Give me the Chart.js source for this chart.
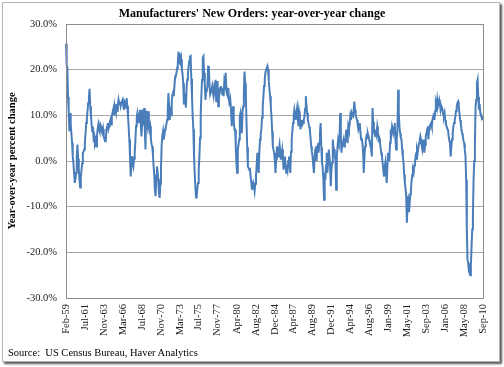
<!DOCTYPE html>
<html>
<head>
<meta charset="utf-8">
<script src="https://cdn.jsdelivr.net/npm/chart.js@4"></script>
<style>
html,body{margin:0;padding:0;background:#fff;}
#wrap{position:relative;width:504px;height:367px;overflow:hidden;background:#fff;}
#frame{position:absolute;left:2px;top:2px;width:496px;height:358px;border:1px solid #b4b4b4;box-shadow:2px 2px 2px #555;background:#fff;}
#title{position:absolute;left:0;top:6px;width:504px;text-align:center;font:bold 12px "Liberation Serif";line-height:14px;color:#000;}
#source{position:absolute;left:8px;top:347px;font:10.5px "Liberation Serif";line-height:12px;color:#000;white-space:pre;}
canvas{position:absolute;left:0;top:0;}
</style>
</head>
<body>
<div id="wrap">
  <div id="frame"></div>
  <canvas id="c" width="504" height="367"></canvas>
  <div id="title">Manufacturers' New Orders: year-over-year change</div>
  <div id="source">Source:  US Census Bureau, Haver Analytics</div>
</div>
<script>
// Monthly year-over-year % change, Feb-1959 .. Sep-2010
const orders1959 = [25.7, 21.0, 20.5, 14.0, 11.0, 6.5, 10.5, 8.0, 6.0, 4.0, 1.0];
const orders1960s = [
  -0.5, -2.5, -4.8, -4.0, -2.6, 1.0, 3.6, 0.5, -1.9, -4.0, -5.8, -3.5,
  -2.0, -0.5, 1.8, 2.0, 2.5, 4.0, 6.0, 8.3, 9.5, 11.0, 12.7, 14.0,
  15.8, 12.0, 10.0, 8.0, 6.5, 7.5, 5.0, 5.5, 3.9, 4.5, 3.2, 5.5,
  7.0, 8.0, 7.0, 6.5, 8.0, 7.6, 6.5, 6.1, 7.0, 5.4, 4.8, 4.3,
  4.5, 6.9, 7.5, 8.3, 7.0, 7.6, 8.5, 9.0, 8.0, 9.8, 10.5, 11.2,
  10.0, 12.0, 11.0, 10.5, 12.5, 11.0, 12.3, 13.4, 12.5, 13.0, 12.0, 12.7,
  13.0, 13.4, 12.0, 11.2, 13.0, 12.7, 11.5, 13.8, 12.0, 9.8, 7.5, 4.7,
  1.0, -3.4, -1.0, 1.0, -0.5, -1.2, 0.5, 1.8, 4.5, 7.6, 9.5, 10.5,
  9.5, 8.3, 10.0, 11.2, 8.0, 5.4, 8.0, 11.2, 9.0, 11.6, 7.0, 2.5,
  11.0, 8.5, 7.6, 10.9, 8.0, 6.9, 7.6, 5.0, 3.6, 3.2, 1.5, -1.0
];
const orders1970s = [
  -3.0, -6.5, -7.7, -4.0, -1.2, -2.5, -4.0, -7.0, -8.1, -5.0, -1.5, 3.5,
  5.5, 6.5, 4.7, 5.5, 6.9, 7.5, 8.0, 9.0, 11.0, 14.9, 12.0, 9.0,
  11.7, 10.0, 13.0, 14.5, 15.0, 14.2, 16.5, 18.5, 18.6, 19.3, 20.4, 21.5,
  23.7, 23.6, 21.5, 21.2, 22.2, 20.0, 19.0, 17.1, 12.4, 14.6, 14.2, 11.7,
  16.0, 17.8, 19.0, 20.7, 21.9, 22.9, 23.0, 18.0, 14.2, 10.0, 6.9, 1.5,
  -2.5, -5.5, -8.0, -7.7, -6.0, -4.8, -2.0, 1.0, 5.1, 10.5, 14.6, 17.8,
  22.6, 22.9, 19.3, 17.0, 13.4, 15.3, 15.6, 16.4, 20.7, 20.8, 16.4, 14.6,
  14.6, 15.6, 16.4, 15.0, 14.2, 16.0, 15.3, 17.8, 13.1, 14.2, 17.5, 12.0,
  15.3, 14.9, 16.0, 16.4, 15.6, 14.6, 16.0, 14.2, 17.5, 16.8, 19.3, 16.0,
  14.6, 14.2, 16.0, 13.4, 12.0, 13.1, 11.2, 7.6, 10.0, 12.0, 9.0, 6.9
];
const orders1980s = [
  6.9, 3.2, -0.5, -2.6, 2.5, 3.5, 4.7, 9.8, 10.5, 8.0, 6.1, 10.5,
  12.0, 14.9, 19.6, 17.0, 14.2, 8.3, 3.0, -1.2, -1.5, -1.9, -1.5, -3.4,
  -4.5, -6.3, -5.5, -4.8, -5.5, -6.6, -5.0, -3.4, -1.0, 1.8, -0.5, -2.6,
  2.0, 4.7, 5.8, 6.9, 9.5, 12.0, 14.0, 16.4, 18.0, 19.3, 20.0, 20.4,
  20.8, 20.0, 17.5, 15.6, 14.2, 12.0, 9.8, 6.5, 3.2, 2.5, 1.8, 0.0,
  -2.6, 0.5, 3.2, 2.0, 1.0, 2.5, 3.6, 2.0, 0.3, 1.5, 2.5, 0.5,
  -1.9, 0.0, 1.0, -1.0, -2.6, -1.0, -1.9, 0.0, 1.0, -1.0, -2.6, 2.0,
  4.7, 6.5, 8.3, 10.0, 11.2, 10.0, 9.0, 10.5, 11.6, 9.5, 7.6, 10.9,
  10.0, 6.9, 8.0, 9.0, 8.0, 8.3, 9.0, 9.8, 11.5, 14.2, 12.0, 10.5,
  9.0, 8.3, 7.5, 6.9, 5.0, 3.2, 2.0, 1.0, -1.0, -2.6, 0.5, 2.5
];
const orders1990s = [
  3.2, 0.0, 3.2, 3.9, 1.8, 4.0, 6.1, 8.3, 3.0, -0.4, -1.2, -4.0,
  -8.5, -2.6, -4.1, -1.0, 1.8, -2.6, -0.5, 2.5, 1.0, -1.0, -5.5, -2.0,
  -0.4, 4.7, 3.0, 2.5, 1.0, 0.3, -6.3, 1.0, 3.0, 4.7, 4.0, 4.7,
  10.5, 5.0, 1.8, 3.9, 4.0, 4.7, 3.2, 4.0, 4.7, 6.9, 5.0, 3.9,
  7.6, 6.9, 8.0, 9.8, 9.0, 10.5, 10.0, 9.8, 11.0, 13.0, 11.2, 9.8,
  9.5, 9.0, 8.0, 6.9, 7.5, 8.3, 6.5, 4.7, 5.0, 3.9, 2.0, -2.6,
  1.0, 3.2, 4.5, 5.4, 5.0, 6.1, 5.5, 4.7, 4.0, 3.9, 2.5, 1.0,
  11.6, 8.5, 6.9, 6.0, 5.4, 6.9, 6.0, 7.6, 6.5, 4.7, 5.0, 3.9,
  3.0, 1.8, 1.0, -0.4, -2.0, -3.4, -1.5, -0.4, -2.5, -4.8, -1.5, 1.8,
  0.5, 0.3, 4.0, 6.9, 6.0, 7.6, 7.0, 6.1, 7.0, 8.3, 5.0, 2.5
];
const orders2000s = [
  5.0, 6.9, 15.6, 10.5, 7.5, 6.1, 5.0, 4.7, 2.5, 1.0, -0.4, -3.0,
  -4.8, -6.0, -7.7, -13.5, -10.0, -11.0, -8.8, -9.5, -7.3, -6.3, -4.4, -3.0,
  -2.0, -2.6, -1.0, -0.4, 1.0, 0.5, 2.5, 1.8, 3.0, 3.9, 4.5, 5.4,
  4.7, 3.5, 2.5, 3.5, 4.7, 1.8, 3.5, 5.4, 6.0, 6.9, 7.6, 4.7,
  6.9, 7.6, 8.0, 8.3, 7.6, 9.0, 9.8, 10.5, 9.0, 11.0, 12.7, 12.0,
  13.4, 12.0, 12.7, 13.4, 12.5, 11.2, 12.0, 11.5, 11.2, 10.0, 9.8, 10.5,
  9.0, 8.0, 7.6, 7.0, 6.9, 5.4, 4.5, 3.9, 1.0, 3.0, 4.7, 6.1,
  7.6, 8.3, 9.0, 9.8, 11.0, 12.0, 12.7, 13.0, 12.0, 10.5, 9.0, 8.3,
  6.9, 6.1, 5.4, 4.5, 3.9, 2.5, 1.0, -4.1, -15.0, -21.6, -22.3, -24.0,
  -24.5, -25.0, -23.0, -18.7, -15.0, -12.1, -4.1, 0.0, 3.9, 12.0, 13.4, 17.1
];
const orders2010 = [17.8, 14.0, 11.2, 12.5, 10.5, 10.0, 9.8, 9.5, 9.0];

const tickLabels = ['Feb-59','Jul-61','Nov-63','Mar-66','Jul-68','Nov-70','Mar-73','Jul-75',
  'Nov-77','Apr-80','Aug-82','Dec-84','Apr-87','Aug-89','Dec-91','Apr-94','Aug-96',
  'Jan-99','May-01','Sep-03','Jan-06','May-08','Sep-10'];
const yTicks = [-30, -20, -10, 0, 10, 20, 30];
const monthNames = ['Jan','Feb','Mar','Apr','May','Jun','Jul','Aug','Sep','Oct','Nov','Dec'];

const values = [].concat(orders1959, orders1960s, orders1970s, orders1980s, orders1990s, orders2000s, orders2010);
const labels = values.map((_, i) => {
  const k = 1 + i; // Feb 1959 = month index 1
  const m = k % 12;
  const y = 1959 + Math.floor(k / 12);
  return monthNames[m] + '-' + String(y % 100).padStart(2, '0');
});
const tickIdx = tickLabels.map(t => labels.indexOf(t)).filter(i => i >= 0);

const serif = 'Liberation Serif';

const plotFrame = {
  id: 'plotFrame',
  afterDatasetsDraw(chart) {
    const a = chart.chartArea;
    const ctx = chart.ctx;
    ctx.save();
    ctx.strokeStyle = '#8c8c8c';
    ctx.lineWidth = 1;
    ctx.strokeRect(Math.round(a.left) + 0.5, Math.round(a.top) + 0.5,
      Math.round(a.right) - Math.round(a.left), Math.round(a.bottom) - Math.round(a.top));
    ctx.restore();
  }
};

new Chart(document.getElementById('c'), {
  type: 'line',
  data: {
    labels: labels,
    datasets: [{
      data: values,
      borderColor: '#4a7ebb',
      borderWidth: 2,
      pointRadius: 0,
      tension: 0,
      fill: false
    }]
  },
  options: {
    responsive: false,
    animation: false,
    layout: { padding: { top: 24, right: 21, left: 0, bottom: 0 } },
    plugins: {
      legend: { display: false },
      tooltip: { enabled: false },
      title: { display: false }
    },
    scales: {
      x: {
        type: 'category',
        grid: { display: false, drawTicks: false },
        border: { display: true, color: '#8c8c8c' },
        ticks: {
          autoSkip: false,
          maxRotation: 90,
          minRotation: 90,
          padding: 6,
          color: '#222',
          font: { family: serif, size: 10.5 }
        },
        afterBuildTicks: (s) => { s.ticks = tickIdx.map(v => ({ value: v })); },
        afterFit: (s) => { s.height = 69; }
      },
      y: {
        min: yTicks[0],
        max: yTicks[yTicks.length - 1],
        afterBuildTicks: (s) => { s.ticks = yTicks.map(v => ({ value: v })); },
        ticks: {
          padding: 9,
          color: '#222',
          font: { family: serif, size: 10.5 },
          callback: (v) => Number(v).toFixed(1) + '%'
        },
        grid: { color: '#a8a8a8', lineWidth: 1, drawTicks: false },
        border: { display: true, color: '#8c8c8c' },
        title: {
          display: true,
          text: 'Year-over-year percent change',
          color: '#000',
          padding: { top: 6, bottom: 0 },
          font: { family: serif, size: 10.5, weight: 'bold' }
        },
        afterFit: (s) => { s.width = 66; }
      }
    }
  },
  plugins: [plotFrame]
});
</script>
</body>
</html>
